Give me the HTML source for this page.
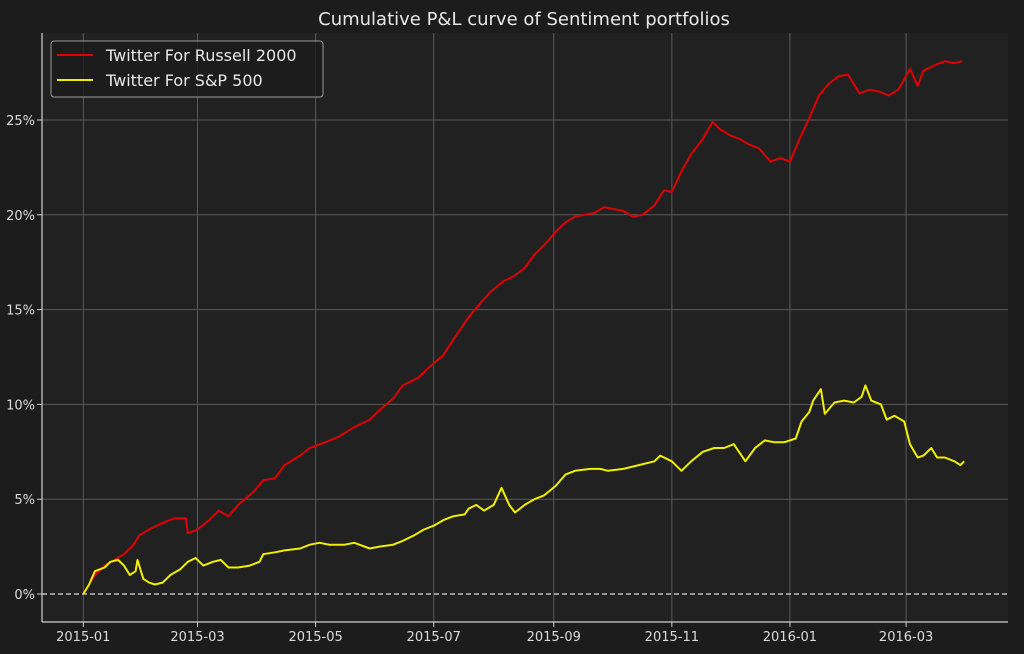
<!DOCTYPE html>
<html><head><meta charset="utf-8"><style>
html,body{margin:0;padding:0;background:#1c1c1c;}
svg{display:block;font-family:"DejaVu Sans","Liberation Sans",sans-serif;}
</style></head><body>
<svg id="chart" width="1024" height="654" viewBox="0 0 1024 654">
<rect x="0" y="0" width="1024" height="654" fill="#1c1c1c"/>
<rect x="42" y="33" width="966" height="589" fill="#212121"/>
<text x="524" y="25" fill="#e8e8e8" font-size="18" text-anchor="middle">Cumulative P&amp;L curve of Sentiment portfolios</text>
<g id="grid"></g>
<g id="axes"></g>
<g id="series"></g>
<g>
<rect x="51" y="41" width="272" height="56" rx="3" fill="#1c1c1c" fill-opacity="0.8" stroke="#9a9a9a" stroke-width="1"/>
<line x1="57" y1="55" x2="93" y2="55" stroke="#e00000" stroke-width="2"/>
<text x="106" y="61" fill="#e8e8e8" font-size="16">Twitter For Russell 2000</text>
<line x1="57" y1="80" x2="93" y2="80" stroke="#f0f000" stroke-width="2"/>
<text x="106" y="86" fill="#e8e8e8" font-size="16">Twitter For S&amp;P 500</text>
</g>
</svg>
<script>
const xTickDays=[0,59,120,181,243,304,365,425];
const xTickLabels=["2015-01","2015-03","2015-05","2015-07","2015-09","2015-11","2016-01","2016-03"];
const yTickValues=[0,5,10,15,20,25];
const yTickLabels=["0%","5%","10%","15%","20%","25%"];
const russellDays=[0,6,11,16,21,26,29,34,40,47,53,54,59,65,70,75,80,88,93,99,104,112,117,125,132,140,148,153,160,165,173,178,186,191,199,204,210,217,223,228,233,238,244,249,254,259,264,269,274,279,284,289,295,300,304,309,314,320,325,329,334,339,344,349,355,360,365,370,375,380,385,390,395,401,406,411,416,421,427,431,434,440,445,450,454];
const russellValues=[0,1.0,1.5,1.8,2.1,2.6,3.1,3.4,3.7,4.0,4.0,3.2,3.4,3.9,4.4,4.1,4.7,5.4,6.0,6.1,6.8,7.3,7.7,8.0,8.3,8.8,9.2,9.7,10.3,11.0,11.4,11.9,12.6,13.4,14.6,15.2,15.9,16.5,16.8,17.2,17.9,18.4,19.1,19.6,19.9,20.0,20.1,20.4,20.3,20.2,19.9,20.0,20.5,21.3,21.2,22.3,23.2,24.0,24.9,24.5,24.2,24.0,23.7,23.5,22.8,23.0,22.8,24.0,25.1,26.3,26.9,27.3,27.4,26.4,26.6,26.5,26.3,26.6,27.7,26.8,27.6,27.9,28.1,28.0,28.1];
const spDays=[0,3,6,11,14,18,21,24,27,28,31,34,37,41,45,50,54,58,62,67,71,75,80,86,91,93,99,104,112,117,122,127,135,140,148,153,160,165,171,176,181,186,191,197,199,203,207,212,216,220,223,228,233,238,244,249,254,262,267,271,279,287,295,298,304,309,314,320,326,331,336,342,347,352,357,362,368,371,375,377,381,383,388,393,398,402,404,407,412,415,419,424,427,431,434,438,441,445,450,453,455];
const spValues=[0,0.5,1.2,1.4,1.7,1.8,1.5,1.0,1.2,1.8,0.8,0.6,0.5,0.6,1.0,1.3,1.7,1.9,1.5,1.7,1.8,1.4,1.4,1.5,1.7,2.1,2.2,2.3,2.4,2.6,2.7,2.6,2.6,2.7,2.4,2.5,2.6,2.8,3.1,3.4,3.6,3.9,4.1,4.2,4.5,4.7,4.4,4.7,5.6,4.7,4.3,4.7,5.0,5.2,5.7,6.3,6.5,6.6,6.6,6.5,6.6,6.8,7.0,7.3,7.0,6.5,7.0,7.5,7.7,7.7,7.9,7.0,7.7,8.1,8.0,8.0,8.2,9.1,9.6,10.2,10.8,9.5,10.1,10.2,10.1,10.4,11.0,10.2,10.0,9.2,9.4,9.1,7.9,7.2,7.3,7.7,7.2,7.2,7.0,6.8,7.0];

const NS="http://www.w3.org/2000/svg";
const X0=83.3,PXD=1.936,Y0=594,PXV=18.96,L=42,R=1008,T=33,B=622;
function xs(d){return X0+d*PXD;}
function ys(v){return Y0-v*PXV;}
function mk(tag,attrs,parent){const e=document.createElementNS(NS,tag);for(const k in attrs)e.setAttribute(k,attrs[k]);parent.appendChild(e);return e;}
const grid=document.getElementById('grid'),axes=document.getElementById('axes'),series=document.getElementById('series');
xTickDays.forEach((d,i)=>{
  const gl=mk('line',{x1:xs(d),x2:xs(d),y1:T,y2:B,stroke:'#5a5a5a','stroke-width':1},grid);
  
  
  const tk=mk('line',{x1:xs(d),x2:xs(d),y1:B,y2:B+5,stroke:'#cfcfcf','stroke-width':1},axes);
  
  
  const t=mk('text',{x:xs(d),y:B+19,fill:'#dcdcdc','font-size':13,'text-anchor':'middle'},axes);
  t.textContent=xTickLabels[i];
  
  
});
yTickValues.forEach((v,i)=>{
  if(v!==0){
    const gl=mk('line',{x1:L,x2:R,y1:ys(v),y2:ys(v),stroke:'#5a5a5a','stroke-width':1},grid);
    
    
  }
  const tk=mk('line',{x1:L-5,x2:L,y1:ys(v),y2:ys(v),stroke:'#cfcfcf','stroke-width':1},axes);
  
  
  const t=mk('text',{x:L-7,y:ys(v)+5,fill:'#dcdcdc','font-size':13,'text-anchor':'end'},axes);
  t.textContent=yTickLabels[i];
  
  
});
const zl=mk('line',{x1:L,x2:R,y1:ys(0),y2:ys(0),stroke:'#e0e0e0','stroke-width':1.3,'stroke-dasharray':'5,3'},grid);


const ls=mk('line',{x1:L,x2:L,y1:T,y2:B,stroke:'#cfcfcf','stroke-width':1.2},axes);


const bs=mk('line',{x1:L,x2:R,y1:B,y2:B,stroke:'#cfcfcf','stroke-width':1.2},axes);


function pts(ds,vs){return ds.map((d,i)=>xs(d).toFixed(1)+','+ys(vs[i]).toFixed(1)).join(' ');}
const pr=mk('polyline',{points:pts(russellDays,russellValues),fill:'none',stroke:'#e00000','stroke-width':2,'stroke-linejoin':'round'},series);


const ps=mk('polyline',{points:pts(spDays,spValues),fill:'none',stroke:'#f0f000','stroke-width':2,'stroke-linejoin':'round'},series);


</script>
</body></html>
